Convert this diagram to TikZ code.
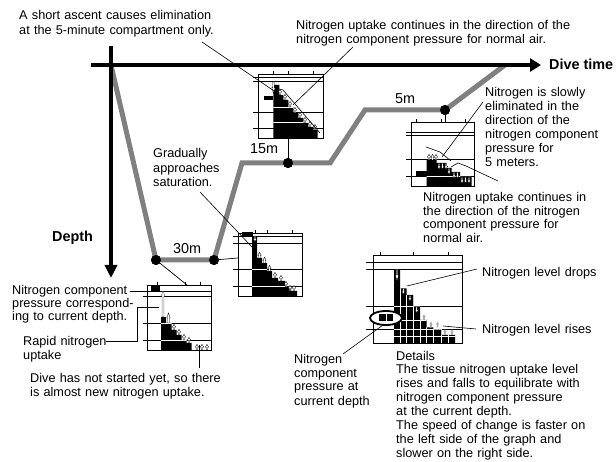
\documentclass[tikz,border=0pt]{standalone}
\usepackage{fontspec}
\setmainfont{Liberation Sans}
\usetikzlibrary{arrows.meta,shapes.geometric}
\definecolor{profgray}{RGB}{128,128,128}
\definecolor{arrgray}{RGB}{175,175,175}
\begin{document}
\begin{tikzpicture}[x=1pt,y=-1pt,
  lbl/.style={anchor=base west,inner sep=0pt,text width=420pt,align=left,font=\fontsize{12.7}{14}\selectfont},
  big/.style={anchor=base west,inner sep=0pt,font=\fontsize{14.4}{16}\selectfont},
  bigb/.style={anchor=base west,inner sep=0pt,font=\fontsize{14.4}{16}\selectfont\bfseries},
  leader/.style={draw=black,line width=0.6pt},
  axisline/.style={line width=4pt},
  profile/.style={draw=profgray,line width=5pt},
  dot/.style={circle,fill=black,inner sep=0pt,minimum size=10pt},
  gridl/.style={line width=0.7pt},
  frame/.style={line width=0.8pt},
  wgrid/.style={draw=white,line width=0.7pt},
  uparr/.pic={\filldraw[fill=white,draw=black,line width=0.35pt] (-0.7,0) -- (-0.7,-2.8) -- (-1.7,-2.8) -- (0,-5.6) -- (1.7,-2.8) -- (0.7,-2.8) -- (0.7,0) -- cycle;},
  dnarr/.pic={\filldraw[fill=white,draw=black,line width=0.35pt] (-0.7,0) -- (-0.7,2.8) -- (-1.7,2.8) -- (0,5.6) -- (1.7,2.8) -- (0.7,2.8) -- (0.7,0) -- cycle;},
  grarr/.pic={\fill[arrgray] (-0.8,0) -- (-0.8,-2.8) -- (-1.8,-2.8) -- (0,-5.8) -- (1.8,-2.8) -- (0.8,-2.8) -- (0.8,0) -- cycle;},
]
\useasboundingbox (0,0) rectangle (616,462);

% ---------- dive profile ----------
\coordinate (p0) at (111,65);
\coordinate (p3) at (242,163);
\coordinate (p4) at (330,163);
\coordinate (p5) at (365,110);
\coordinate (p7) at (505,65);
\node[dot] (d30a) at (156,260) {};
\node[dot] (d30b) at (214,260) {};
\node[dot] (d15) at (288,163) {};
\node[dot] (d5) at (445,110) {};
\draw[profile] (p0) -- (d30a.center) -- (d30b.center) -- (p3) -- (p4) -- (p5) -- (d5.center) -- (p7);

% ---------- axes ----------
\coordinate (hx0) at (91,65);
\coordinate (hx1) at (541,65);
\coordinate (vy0) at (111,46);
\coordinate (vy1) at (111,278);
\draw[axisline,-{Triangle[length=11pt,width=13pt]}] (hx0) -- (hx1);
\draw[axisline,-{Triangle[length=13pt,width=12pt]}] (vy0) -- (vy1);
\node[bigb] (tdive) at (549,70) {Dive time};
\node[bigb] (tdepth) at (52,242) {Depth};

% dots on top again
\node[dot] at (d30a) {};
\node[dot] at (d30b) {};
\node[dot] at (d15) {};
\node[dot] at (d5) {};

% depth labels
\node[big] (l30) at (173,253.5) {30m};
\node[big] (l15) at (250,153.5) {15m};
\node[big] (l5) at (395,103.5) {5m};

% ---------- graph A (15 m) ----------
\foreach \y in {77,81,112,128} \draw[gridl] (253,\y) -- (323,\y);
\draw[frame] (258,74) rectangle (323,138);
\foreach \x in {273,288,313} \draw[gridl] (\x,71) -- (\x,74);
\fill (264,96) rectangle (273,100);
\begin{scope}
  \clip (273.3,138) |- (279.3,85) |- (283.3,95) |- (288.3,100) |- (293.3,107) |- (298.3,113) |- (303.3,118) |- (308.3,123) |- (313.3,127) |- (317.7,130) -- (317.7,138) -- cycle;
  \fill (250,70) rectangle (330,140);
  \foreach \y in {107,122} \draw[wgrid] (270,\y) -- (320,\y);
\end{scope}
\pic[yscale=2] at (273.5,82) {dnarr};
\foreach \x/\y in {280/95,285/100,290/107,295/113,300/118,305/123,310/127,315/130} \pic at (\x,\y) {uparr};
\draw[line width=0.6pt] (279,89) -- (283,90) -- (320,133);
\coordinate (gAb) at (288,138);
\draw[gridl] (d15) -- (gAb);

% ---------- graph B (30 m) ----------
\foreach \y in {236.5,243,269,286} \draw[gridl] (233,\y) -- (302,\y);
\draw[frame] (238,233) rectangle (302,296);
\foreach \x in {255,267,292} \draw[gridl] (\x,230) -- (\x,233);
\fill (242,232) rectangle (253,237);
\begin{scope}
  \clip (252,296) |- (257,237) |- (262,258) |- (267,263) |- (272,271) |- (278,278) |- (285,281) |- (291,287) |- (297,291) -- (297,296) -- cycle;
  \fill (230,228) rectangle (305,300);
  \foreach \y in {269,286} \draw[wgrid] (250,\y) -- (300,\y);
\end{scope}
\pic at (255,236) {dnarr};
\foreach \x/\y in {259.5/258,264.5/263,269.5/271,275/278,281/281,286/287,290/291,294/291} \pic at (\x,\y) {uparr};
\coordinate (gBl) at (238,258);
\draw[gridl] (d30b) -- (gBl);

% ---------- graph C (start) ----------
\foreach \y in {291,296,323,340} \draw[gridl] (143,\y) -- (211,\y);
\draw[frame] (147,285) rectangle (211,350);
\foreach \x in {157,185,200} \draw[gridl] (\x,282) -- (\x,285);
\fill (151,286) rectangle (160,291);
\begin{scope}
  \clip (161,350) |- (166,317) |- (171.7,323) |- (176.7,330) |- (181.7,335) |- (186.7,340) |- (191.7,343) -- (191.7,350) -- cycle;
  \fill (140,280) rectangle (215,355);
  \foreach \y in {323,340} \draw[wgrid] (158,\y) -- (195,\y);
\end{scope}
\filldraw[fill=white,draw=gray,line width=0.5pt] (162.2,317) -- (162.2,296) -- (161,296) -- (163,291.5) -- (165,296) -- (163.8,296) -- (163.8,317) -- cycle;
\pic[yscale=1.8] at (168.5,323) {uparr};
\foreach \x/\y in {174/330,179/335,184/340,189/343,197/350,202/350,207/350} \pic at (\x,\y) {uparr};
\coordinate (gCt) at (187,285);
\draw[gridl] (d30a) -- (gCt);

% ---------- graph D (5 m) ----------
\foreach \y in {132,135,159,176} \draw[gridl] (406,\y) -- (474,\y);
\draw[frame] (411,122) rectangle (474,186);
\foreach \x in {416,441,465} \draw[gridl] (\x,119) -- (\x,122);
\fill (416,171) rectangle (427,177);
\begin{scope}
  \clip (426.7,186) |- (436.7,160) |- (446.7,163) |- (451.7,168) |- (460,172) |- (471.7,177) -- (471.7,186) -- cycle;
  \fill (400,115) rectangle (480,190);
  \draw[wgrid] (420,176) -- (475,176);
\end{scope}
\foreach \x/\y in {429/160,432.5/160,436/160} \pic at (\x,\y) {uparr};
\foreach \x/\y in {439/163.5,442.5/163.5,446/163.5,449/168.5,454/172.5,457.5/172.5,462/177.5,465.5/177.5,469/177.5} \pic at (\x,\y) {dnarr};
\draw[line width=0.6pt] (426,147) -- (440,152) -- (451,161);
\draw[line width=0.6pt] (451,167) -- (458,163) -- (466,166);
\coordinate (gDt) at (445,122);
\draw[gridl] (d5) -- (gDt);

% ---------- graph E (details) ----------
\foreach \y in {262.7,269.3,306.7,329} \draw[gridl] (366,\y) -- (462,\y);
\draw[frame] (373,255) rectangle (462,343);
\foreach \x in {380,413,448} \draw[gridl] (\x,252) -- (\x,255);
\begin{scope}
  \clip (394,343) |- (400,269.3) |- (406.7,288.3) |- (413.3,295) |- (420,306.7) |- (426.7,320) |- (433.3,327.3) |- (441.7,329.3) |- (455,335) -- (455,343) -- cycle;
  \fill (390,260) rectangle (460,345);
  \foreach \x in {400,406.7,413.3,420,426.7,433.3,441.7,448.3} \draw[wgrid] (\x,260) -- (\x,345);
  \foreach \y in {306.7,320,329,336} \draw[wgrid] (390,\y) -- (460,\y);
\end{scope}
\pic[yscale=2] at (397,269.5) {dnarr};
\foreach \x/\y in {403.3/288.5,410/295.3,416.7/307} \pic at (\x,\y) {dnarr};
\foreach \x/\y in {424/320,431/327.3,437.5/327.3,445/335,452/335} \pic at (\x,\y) {grarr};
\node[ellipse,draw=black,line width=1.8pt,fill=white,minimum width=32pt,minimum height=14pt,inner sep=0pt] (ell) at (386,318) {};
\fill (379.3,314.5) rectangle (385.8,321);
\fill (386.8,314.5) rectangle (393.3,321);

% ---------- texts ----------
\node[lbl,font=\fontsize{12.7}{15}\selectfont] (t1) at (19,20) {A short ascent causes elimination\\at the 5-minute compartment only.};
\node[lbl] (t2) at (296,29.3) {Nitrogen uptake continues in the direction of the\\nitrogen component pressure for normal air.};
\node[lbl,font=\fontsize{12.7}{14.5}\selectfont] (t3) at (153,158) {Gradually\\approaches\\saturation.};
\node[lbl,font=\fontsize{12.7}{13}\selectfont] (t5) at (12,295) {Nitrogen component\\pressure correspond-\\ing to current depth.};
\node[lbl,font=\fontsize{12.7}{13.5}\selectfont] (t6) at (23,345.5) {Rapid nitrogen\\uptake};
\node[lbl] (t7) at (30,382) {Dive has not started yet, so there\\is almost new nitrogen uptake.};
\node[lbl] (t8) at (485,96.5) {Nitrogen is slowly\\eliminated in the\\direction of the\\nitrogen component\\pressure for\\5 meters.};
\node[lbl,font=\fontsize{12.7}{13.7}\selectfont] (t9) at (423,201.5) {Nitrogen uptake continues in\\the direction of the nitrogen\\component pressure for\\normal air.};
\node[lbl] (t10) at (482,277) {Nitrogen level drops};
\node[lbl] (t11) at (482,334) {Nitrogen level rises};
\node[lbl] (t12) at (294,363) {Nitrogen\\component\\pressure at\\current depth};
\node[lbl,font=\fontsize{12.7}{13.9}\selectfont] (t13) at (396,360) {Details\\The tissue nitrogen uptake level\\rises and falls to equilibrate with\\nitrogen component pressure\\at the current depth.\\The speed of change is faster on\\the left side of the graph and\\slower on the right side.};

% ---------- leaders ----------
\coordinate (c1a) at (202,42); \coordinate (c1b) at (277,93);
\coordinate (c2a) at (353,47); \coordinate (c2b) at (293,105);
\coordinate (c3a) at (200,192); \coordinate (c3b) at (252,247);
\coordinate (c5a) at (130,291); \coordinate (c5b) at (147,291);
\coordinate (c6a) at (106,341); \coordinate (c6m) at (137,341); \coordinate (c6n) at (137,307); \coordinate (c6b) at (159,307);
\coordinate (c7a) at (199,345); \coordinate (c7b) at (199,368);
\coordinate (c8a) at (483,102); \coordinate (c8b) at (442,157);
\coordinate (c9a) at (466,166); \coordinate (c9b) at (498,181);
\coordinate (c10a) at (477,269); \coordinate (c10b) at (407,286);
\coordinate (c11a) at (476,329); \coordinate (c11b) at (443,326);
\coordinate (c12a) at (343,354); \coordinate (c12b) at (383,325);
\draw[leader] (c1a) -- (c1b);
\draw[leader] (c2a) -- (c2b);
\draw[leader] (c3a) -- (c3b);
\draw[leader] (c5a) -- (c5b);
\draw[leader] (c6a) -- (c6m) -- (c6n) -- (c6b);
\draw[leader] (c7a) -- (c7b);
\draw[leader] (c8a) -- (c8b);
\draw[leader] (c9a) -- (c9b);
\draw[leader] (c10a) -- (c10b);
\draw[leader] (c11a) -- (c11b);
\draw[leader] (c12a) -- (c12b);
\end{tikzpicture}
\end{document}
